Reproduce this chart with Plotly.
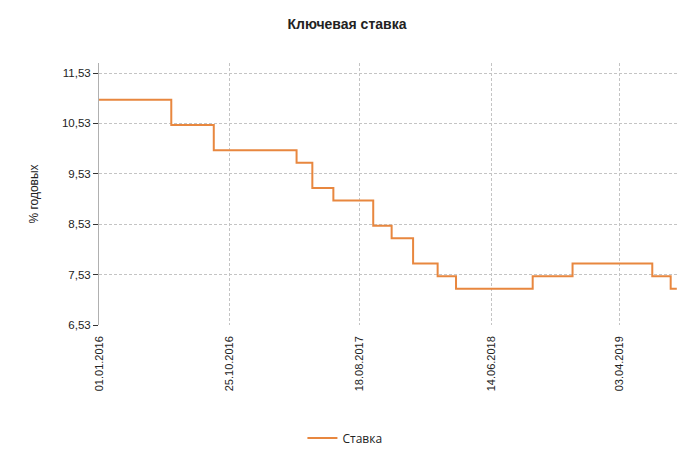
import plotly.graph_objects as go

dates = ["2016-01-01", "2016-06-14", "2016-09-19", "2017-03-27", "2017-05-02",
         "2017-06-19", "2017-09-18", "2017-10-30", "2017-12-18", "2018-02-12",
         "2018-03-26", "2018-09-17", "2018-12-17", "2019-06-17", "2019-07-29",
         "2019-08-12"]
rates = [11.00, 10.50, 10.00, 9.75, 9.25, 9.00, 8.50, 8.25, 7.75, 7.50,
         7.25, 7.50, 7.75, 7.50, 7.25, 7.25]

x_tick_vals = ["2016-01-01", "2016-10-25", "2017-08-18", "2018-06-14", "2019-04-03"]
x_tick_text = ["01.01.2016", "25.10.2016", "18.08.2017", "14.06.2018", "03.04.2019"]
y_tick_vals = [6.53, 7.53, 8.53, 9.53, 10.53, 11.53]

W, H = 692, 458

fig = go.Figure()
fig.add_trace(go.Scatter(
    x=dates, y=rates, mode="lines", name="Ставка",
    line=dict(color="#e8873f", width=2, shape="hv"),
))

fig.update_layout(
    width=W, height=H,
    margin=dict(l=91, r=21, t=55, b=141),
    paper_bgcolor="white", plot_bgcolor="white",
    separators=", ",
    font=dict(family="Liberation Sans, Arial, sans-serif", size=11, color="#333"),
    title=dict(text="<b>Ключевая ставка</b>", x=(347 - 8) / W, xref="container", xanchor="center",
               y=1 - 16 / H, yref="container", yanchor="middle",
               font=dict(family="Liberation Sans, Arial, sans-serif",
                         size=14, color="#222")),
    showlegend=True,
    legend=dict(orientation="h", x=0.424, xanchor="center",
                y=1 - 430 / H, yref="container", yanchor="middle",
                font=dict(family="Open Sans, sans-serif", size=12, color="#222")),
    xaxis=dict(
        type="date", range=["2016-01-01", "2019-08-17"], automargin=False,
        tickmode="array", tickvals=x_tick_vals, ticktext=x_tick_text,
        tickangle=-90, showgrid=True, gridcolor="#c4c4c4", griddash="3px,2px", gridwidth=1,
        showline=False, zeroline=False, ticks="", ticklabelstandoff=8,
        tickfont=dict(size=11, color="#222"),
    ),
    yaxis=dict(
        range=[6.53, 11.73], tickmode="array", tickvals=y_tick_vals, automargin=False,
        tickformat=".2f", showgrid=True, gridcolor="#c4c4c4", griddash="3px,2px", gridwidth=1,
        showline=True, linecolor="#b0b0b0", linewidth=1,
        ticks="outside", ticklen=5, tickcolor="#333", zeroline=False,
        title=dict(text="% годовых", font=dict(size=12, color="#222"), standoff=20),
        tickfont=dict(size=11.5, color="#222"),
    ),
)

fig.write_html("out.html")
